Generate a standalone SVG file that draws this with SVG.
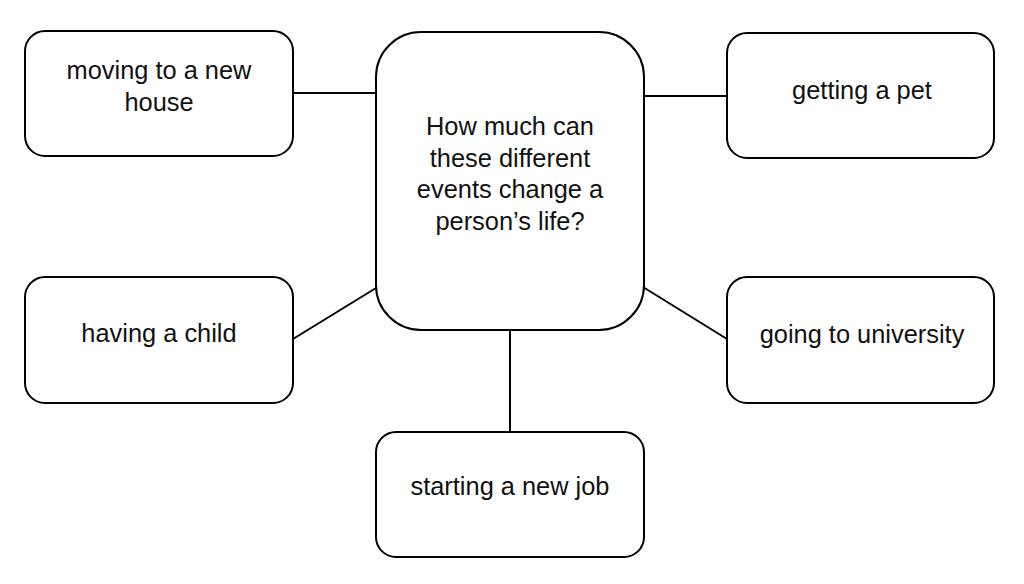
<svg xmlns="http://www.w3.org/2000/svg" width="1024" height="584" viewBox="0 0 1024 584">
<style>
.box{fill:#fff;stroke:#000;stroke-width:2}
.t{font-family:"Liberation Sans",Arial,sans-serif;font-size:25.4px;fill:#111;text-anchor:middle}
.c{stroke:#000;stroke-width:2;fill:none}
</style>
<rect width="1024" height="584" fill="#fff"/>
<g id="connectors">
<line class="c" x1="293" y1="93" x2="376" y2="93"/>
<line class="c" x1="641" y1="96" x2="727" y2="96"/>
<line class="c" x1="293" y1="339" x2="376" y2="288"/>
<line class="c" x1="643" y1="287" x2="727" y2="339"/>
<line class="c" x1="510" y1="330" x2="510" y2="432"/>
</g>
<g id="center">
<rect class="box" x="376" y="32" width="268" height="298" rx="45" ry="45"/>
<text class="t" x="510" y="135">How much can</text>
<text class="t" x="510" y="167">these different</text>
<text class="t" x="510" y="198">events change a</text>
<text class="t" x="510" y="230">person’s life?</text>
</g>
<g id="moving">
<rect class="box" x="25" y="31" width="268" height="125" rx="20" ry="20"/>
<text class="t" x="159" y="79">moving to a new</text>
<text class="t" x="159" y="111">house</text>
</g>
<g id="pet">
<rect class="box" x="727" y="33" width="267" height="125" rx="20" ry="20"/>
<text class="t" x="862" y="99">getting a pet</text>
</g>
<g id="child">
<rect class="box" x="25" y="277" width="268" height="126" rx="20" ry="20"/>
<text class="t" x="159" y="342">having a child</text>
</g>
<g id="university">
<rect class="box" x="727" y="277" width="267" height="126" rx="20" ry="20"/>
<text class="t" x="862" y="343">going to university</text>
</g>
<g id="job">
<rect class="box" x="376" y="432" width="268" height="125" rx="20" ry="20"/>
<text class="t" x="510" y="495">starting a new job</text>
</g>
</svg>
